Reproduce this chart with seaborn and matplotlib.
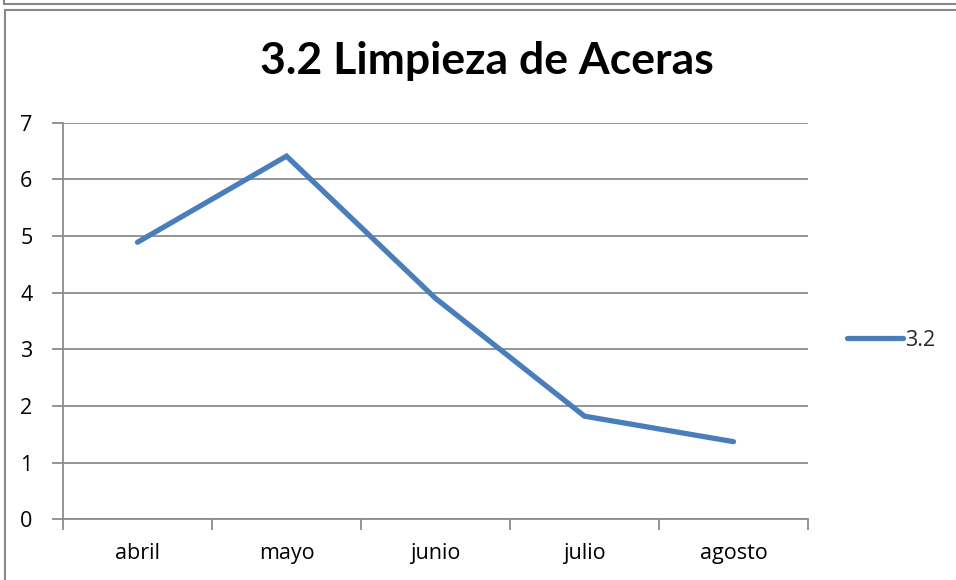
import matplotlib
matplotlib.use("Agg")
import matplotlib.pyplot as plt
import seaborn as sns
import pandas as pd
import numpy as np
from matplotlib.lines import Line2D
from matplotlib.patches import Rectangle

months = ["abril", "mayo", "junio", "julio", "agosto"]
values = [4.89, 6.41, 3.90, 1.82, 1.37]
series_name = "3.2"
title = "3.2 Limpieza de Aceras"
yticks = [0, 1, 2, 3, 4, 5, 6, 7]

sns.set_theme(style="white")
plt.rcParams['font.family'] = ['Open Sans', 'DejaVu Sans']

W, H = 956, 580
fig = plt.figure(figsize=(W / 100, H / 100), dpi=100)
fig.patch.set_facecolor("white")

ax = fig.add_axes([63 / W, 1 - 519.3 / H, (808 - 63) / W, (519.3 - 122.7) / H])

df = pd.DataFrame({"mes": months, "valor": values})
df["pos"] = np.arange(len(months))
sns.lineplot(data=df, x="pos", y="valor", ax=ax, color="#4A7EBB", linewidth=3.8,
             solid_capstyle="round", solid_joinstyle="miter", legend=False, zorder=3)

grid_c = "#8C8C8C"
fs = 15.5
ax.set_xlim(-0.5, len(months) - 0.5)
ax.set_ylim(0, 7)
ax.set_yticks(yticks)
ax.set_yticklabels([str(v) for v in yticks], fontsize=fs, color="black")
ax.yaxis.grid(True, color=grid_c, linewidth=1.3)
ax.xaxis.grid(False)
ax.set_xticks(np.arange(len(months)))
ax.set_xticklabels(months, fontsize=fs, color="black")
ax.set_xticks(np.arange(-0.5, len(months)), minor=True)
ax.tick_params(axis="x", which="major", length=0, pad=17)
ax.tick_params(axis="x", which="minor", length=8, width=1.3, color=grid_c, direction="out")
ax.tick_params(axis="y", which="major", length=8, width=1.3, color=grid_c, direction="out", pad=14)
ax.tick_params(axis="x", which="both", bottom=True)
ax.tick_params(axis="y", which="both", left=True)
ax.set_xlabel("")
ax.set_ylabel("")
for s in ["top", "right"]:
    ax.spines[s].set_visible(False)
for s in ["left", "bottom"]:
    ax.spines[s].set_color(grid_c)
    ax.spines[s].set_linewidth(1.3)
ax.set_facecolor("white")

fig.text(487 / W, 1 - 61 / H, title, ha="center", va="center",
         fontsize=32, fontweight="bold", color="black", family=["Lato", "DejaVu Sans"])

handle = Line2D([], [], color="#4A7EBB", linewidth=3.8, solid_capstyle="round")
fig.legend([handle], [series_name], loc="center left",
           bbox_to_anchor=(838 / W, 1 - 340 / H), frameon=False, fontsize=fs,
           handlelength=2.6, handletextpad=0.1, borderaxespad=0)

# outer frames
frame_c = "#888888"
fig.add_artist(Rectangle((5 / W, -0.1), 1.1, 1 - 10 / H + 0.1, transform=fig.transFigure,
                         fill=False, edgecolor=frame_c, linewidth=1.5))
fig.add_artist(Line2D([4 / W, 1], [1 - 4 / H, 1 - 4 / H], transform=fig.transFigure,
                      color=frame_c, linewidth=1.5))
fig.add_artist(Line2D([4 / W, 4 / W], [1, 1 - 4 / H], transform=fig.transFigure,
                      color=frame_c, linewidth=1.5))

fig.savefig("out.png", dpi=100, facecolor="white")
